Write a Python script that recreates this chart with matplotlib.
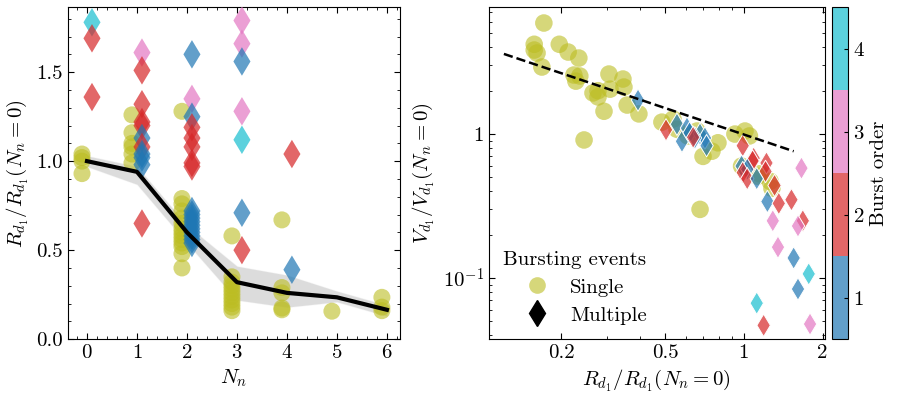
import numpy as np
import matplotlib
matplotlib.use("Agg")
import matplotlib.pyplot as plt
from matplotlib.colors import ListedColormap, BoundaryNorm, to_rgba
from matplotlib.lines import Line2D
import matplotlib.cm as cm

plt.rcParams['font.family'] = 'serif'
plt.rcParams['font.serif'] = ['cmr10']
plt.rcParams['mathtext.fontset'] = 'cm'
plt.rcParams['axes.formatter.use_mathtext'] = True
plt.rcParams['axes.unicode_minus'] = False
plt.rcParams['font.size'] = 15
for ax_ in ('xtick', 'ytick'):
    plt.rcParams[ax_ + '.direction'] = 'in'
    plt.rcParams[ax_ + '.minor.visible'] = True
    plt.rcParams[ax_ + '.major.size'] = 4
    plt.rcParams[ax_ + '.minor.size'] = 2
plt.rcParams['xtick.top'] = True
plt.rcParams['ytick.right'] = True

# ---------------------------------------------- left panel data
# single bursting events (circles): number of neighbours, radius ratio
single_n = [0, 0, 0, 0,
            1, 1, 1, 1, 1, 1,
            2, 2, 2, 2, 2, 2, 2, 2, 2, 2, 2, 2, 2, 2,
            3, 3, 3, 3, 3, 3, 3, 3, 3, 3, 3,
            4, 4, 4, 4, 4,
            5,
            6, 6, 6]
single_r = [1.04, 1.02, 1.00, 0.93,
            1.26, 1.16, 1.10, 1.08, 1.04, 0.99,
            1.28, 0.79, 0.76, 0.72, 0.68, 0.65, 0.62, 0.60, 0.58, 0.56, 0.54, 0.52, 0.48, 0.40,
            0.58, 0.35, 0.32, 0.30, 0.28, 0.26, 0.24, 0.22, 0.20, 0.18, 0.16,
            0.67, 0.29, 0.26, 0.175, 0.165,
            0.157,
            0.235, 0.18, 0.16]

# multiple bursting events (diamonds): neighbours, radius ratio, burst order
multi_n = [0, 0, 0,
           1, 1, 1, 1, 1, 1, 1, 1, 1, 1, 1,
           2, 2, 2, 2, 2, 2, 2, 2,
           2, 2, 2, 2, 2, 2, 2, 2, 2, 2,
           3, 3, 3, 3, 3, 3, 3,
           4, 4]
multi_r = [1.78, 1.69, 1.36,
           1.61, 1.51, 1.32, 1.22, 1.20, 1.13, 1.08, 1.04, 1.02, 0.98, 0.65,
           1.60, 1.35, 1.25, 1.19, 1.13, 1.08, 0.99, 0.97,
           0.72, 0.70, 0.68, 0.66, 0.64, 0.62, 0.60, 0.58, 0.56, 0.54,
           1.79, 1.66, 1.56, 1.28, 1.12, 0.71, 0.50,
           1.04, 0.39]
multi_order = [4, 2, 2,
               3, 2, 2, 2, 2, 1, 2, 1, 1, 1, 2,
               1, 3, 1, 2, 2, 2, 2, 2,
               1, 1, 1, 1, 1, 1, 1, 1, 1, 1,
               3, 3, 1, 3, 4, 1, 2,
               2, 1]

# mean curve and spread band
mean_n = [0, 1, 2, 3, 4, 5, 6]
mean_r = [1.00, 0.94, 0.60, 0.32, 0.26, 0.235, 0.165]
band_lo = [0.97, 0.87, 0.54, 0.22, 0.18, 0.21, 0.13]
band_hi = [1.03, 0.97, 0.64, 0.41, 0.36, 0.27, 0.19]

# ---------------------------------------------- right panel data
single_x = [0.172, 0.158, 0.158, 0.162, 0.169, 0.197, 0.213, 0.234, 0.224, 0.236,
            0.228, 0.265, 0.277, 0.277, 0.305, 0.308, 0.292, 0.345, 0.348, 0.358,
            0.397, 0.245, 0.486, 0.536, 0.555, 0.611, 0.662, 0.698, 0.755, 0.796,
            0.924, 1.01, 1.05, 0.98, 1.13, 1.26, 1.28, 0.68, 1.15]
single_v = [5.9, 4.2, 3.83, 3.65, 2.92, 4.2, 3.71, 3.37, 2.57, 2.53,
            2.33, 1.93, 1.81, 2.0, 2.61, 2.05, 1.44, 2.41, 2.12, 1.59,
            1.38, 0.91, 1.21, 1.27, 1.08, 0.97, 1.05, 0.70, 0.76, 0.87,
            1.0, 1.05, 0.97, 0.60, 0.51, 0.47, 0.42, 0.30, 0.53]

multi_x = [0.394, 0.504, 0.555, 0.58, 0.606, 0.62, 0.68, 0.71, 0.72, 0.65, 0.64,
           0.99, 1.09, 1.08, 1.22, 1.21, 0.98, 1.03, 0.99, 1.03, 1.12, 1.31,
           1.23, 1.36, 1.52, 1.66, 1.29, 1.68, 1.61, 1.35, 1.55, 1.77, 1.61,
           1.12, 1.19, 1.79]
multi_v = [1.72, 1.07, 1.17, 0.89, 1.10, 1.02, 1.0, 0.94, 0.83, 0.94, 0.95,
           0.83, 0.68, 0.65, 0.63, 0.55, 0.60, 0.57, 0.54, 0.49, 0.49, 0.44,
           0.34, 0.33, 0.35, 0.58, 0.25, 0.25, 0.23, 0.164, 0.138, 0.107, 0.084,
           0.067, 0.047, 0.048]
multi_ord_r = [1, 2, 1, 1, 1, 1, 1, 1, 1, 1, 2,
               2, 2, 2, 2, 2, 1, 1, 2, 2, 1, 2,
               1, 2, 2, 3, 3, 2, 3, 3, 1, 4, 1,
               4, 2, 3]

# power-law guide line end points
fit_x = [0.121, 1.55]
fit_v = [3.6, 0.76]

burst_levels = [1, 2, 3, 4]
burst_colors = ['tab:blue', 'tab:red', 'tab:pink', 'tab:cyan']

# ----------------------------------------------
cmap = ListedColormap([to_rgba(c, 0.7) for c in burst_colors])
norm = BoundaryNorm([0.5, 1.5, 2.5, 3.5, 4.5], cmap.N)
olive = to_rgba('tab:olive', 0.6)

fig = plt.figure(figsize=(8.97, 3.99), dpi=100)
ax1 = fig.add_axes([0.0758, 0.150, 0.370, 0.832])
ax2 = fig.add_axes([0.545, 0.150, 0.3746, 0.832])
cax = fig.add_axes([0.9275, 0.150, 0.0178, 0.832])

ax1.fill_between(mean_n, band_lo, band_hi, color='0.55', alpha=0.3,
                 edgecolor='0.9', lw=0.8, zorder=1)
ax1.scatter(np.array(single_n) - 0.1, single_r, s=150, color=olive,
            edgecolor='none', zorder=2)
ax1.scatter(np.array(multi_n) + 0.1, multi_r, s=210, marker='d',
            c=multi_order, cmap=cmap, norm=norm, edgecolor='none', zorder=3)
ax1.plot(mean_n, mean_r, color='k', lw=3, zorder=4)
ax1.set_xlim(-0.38, 6.26)
ax1.set_ylim(0, 1.865)
ax1.set_xticks(range(7))
ax1.xaxis.set_minor_locator(matplotlib.ticker.MultipleLocator(0.2))
ax1.yaxis.set_major_locator(matplotlib.ticker.MultipleLocator(0.5))
ax1.yaxis.set_minor_locator(matplotlib.ticker.MultipleLocator(0.1))
ax1.yaxis.set_major_formatter(matplotlib.ticker.FormatStrFormatter('%.1f'))
ax1.set_xlabel(r'$N_n$')
ax1.set_ylabel(r'$R_{d_1}/R_{d_1}(N_n=0)$')

ax2.scatter(single_x, single_v, s=160, color=olive, edgecolor='none', zorder=2)
ax2.scatter(multi_x, multi_v, s=130, marker='d', c=multi_ord_r, cmap=cmap,
            norm=norm, edgecolor='white', linewidths=0.7, zorder=3)
ax2.plot(fit_x, fit_v, 'k--', lw=1.8, zorder=4)
ax2.set_xscale('log')
ax2.set_yscale('log')
ax2.set_xlim(0.106, 2.04)
ax2.set_ylim(0.0377, 7.6)
ax2.set_xticks([0.2, 0.5, 1, 2])
ax2.set_xticklabels(['0.2', '0.5', '1', '2'])
ax2.set_yticks([0.1, 1])
ax2.set_yticklabels([r'$10^{-1}$', '1'])
ax2.set_xlabel(r'$R_{d_1}/R_{d_1}(N_n=0)$')
ax2.set_ylabel(r'$V_{d_1}/V_{d_1}(N_n=0)$')

handles = [Line2D([], [], ls='none', marker='o', ms=12, color=olive, mec='none'),
           Line2D([], [], ls='none', marker='d', ms=13, color='k')]
leg = ax2.legend(handles, ['Single', 'Multiple'], title='Bursting events',
                 loc='lower left', frameon=False, fontsize=15,
                 title_fontsize=15, handlelength=3.2, handletextpad=0.0,
                 borderaxespad=0.3, labelspacing=0.45)
leg._legend_box.align = 'left'

cb = fig.colorbar(cm.ScalarMappable(norm=norm, cmap=cmap), cax=cax,
                  ticks=burst_levels)
cb.set_label('Burst order')
cb.ax.minorticks_off()
cb.ax.tick_params(direction='in', length=3, right=True, left=False)

fig.savefig('out.png', dpi=100)
